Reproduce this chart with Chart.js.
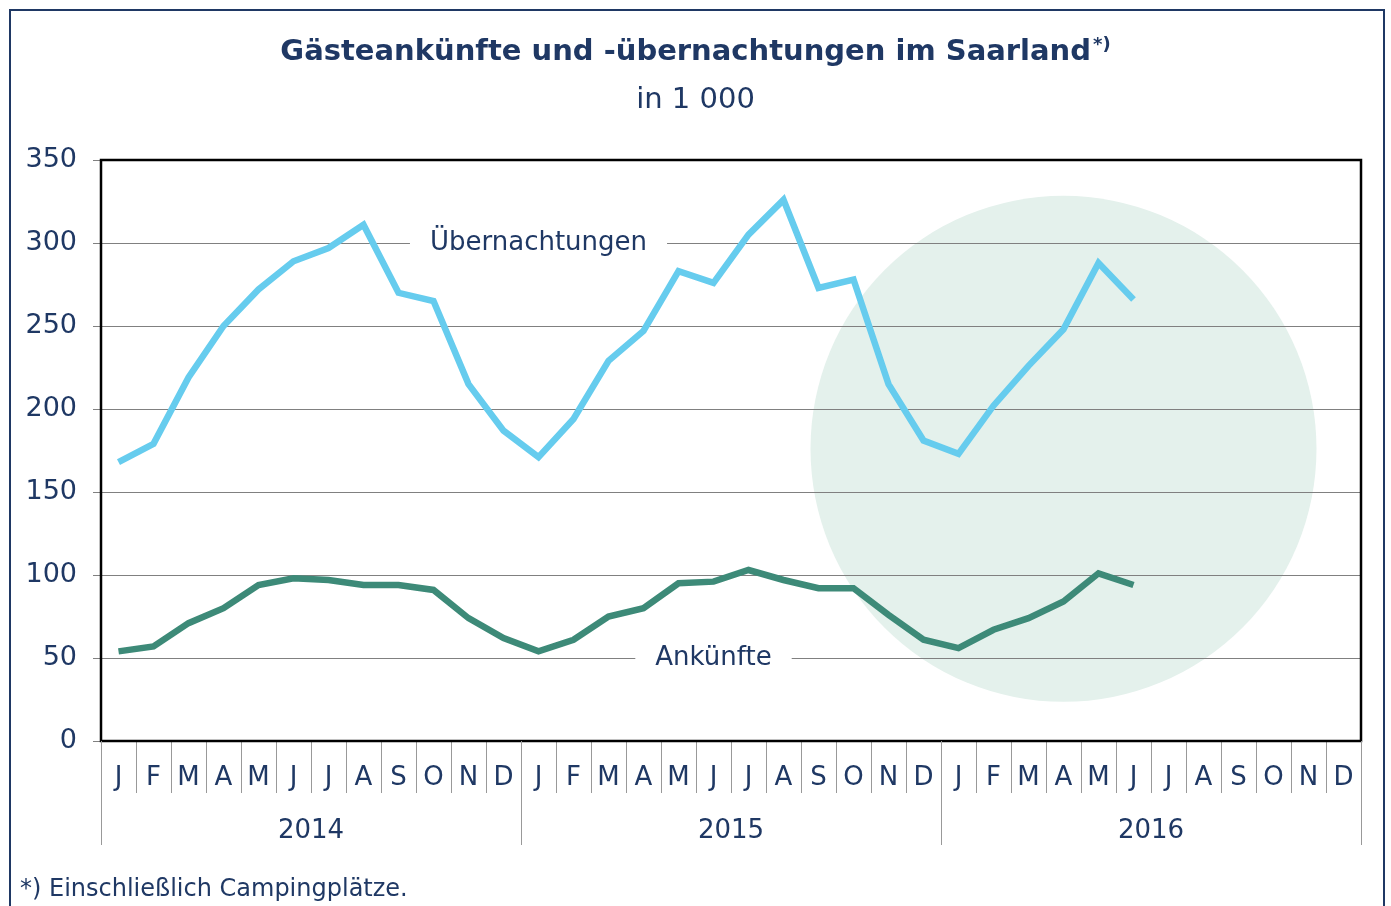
<!DOCTYPE html>
<html>
<head>
<meta charset="utf-8">
<script src="https://cdn.jsdelivr.net/npm/chart.js@4"></script>
<style>
  html, body { margin: 0; padding: 0; background: #fff; }
  #wrap { width: 1391px; height: 906px; }
</style>
</head>
<body>
<div id="wrap"><canvas id="myChart"></canvas></div>
<script>
// Daten (in 1 000)
const months = ['J','F','M','A','M','J','J','A','S','O','N','D'];
const years = ['2014', '2015', '2016'];
const monthLabels = [].concat(months, months, months);

const uebernachtungen = [168, 179, 219, 250, 272, 289, 297, 311, 270, 265, 215, 187,
                         171, 194, 229, 247, 283, 276, 305, 326, 273, 278, 215, 181,
                         173, 202, 226, 248, 288, 266];
const ankuenfte = [54, 57, 71, 80, 94, 98, 97, 94, 94, 91, 74, 62,
                   54, 61, 75, 80, 95, 96, 103, 97, 92, 92, 76, 61,
                   56, 67, 74, 84, 101, 94];
const yTicks = [0, 50, 100, 150, 200, 250, 300, 350];

const navy = '#1f3864';
const font = '"DejaVu Sans", Verdana, sans-serif';

// Hintergrund, Rahmen, Titel usw.
const deko = {
  id: 'deko',
  beforeDraw(chart) {
    const c = chart.ctx, x = chart.scales.x, y = chart.scales.y;
    c.save();
    c.fillStyle = '#fff';
    c.fillRect(0, 0, chart.width, chart.height);
    // Kreis (Hervorhebung 2016)
    c.fillStyle = '#e4f1ec';
    c.beginPath();
    c.arc(x.getPixelForValue(27), y.getPixelForValue(176), 253, 0, Math.PI * 2);
    c.fill();
    c.restore();
  },
  beforeDatasetsDraw(chart) {
    const c = chart.ctx, x = chart.scales.x, y = chart.scales.y;
    c.save();
    c.font = '26px ' + font;
    c.textAlign = 'center';
    c.textBaseline = 'middle';
    const lab = [['Übernachtungen', 12, 300], ['Ankünfte', 17, 50]];
    lab.forEach(l => {
      const px = x.getPixelForValue(l[1]), py = y.getPixelForValue(l[2]);
      const w = c.measureText(l[0]).width;
      c.fillStyle = '#fff';
      c.fillRect(px - w / 2 - 20, py - 16, w + 40, 32);
      c.fillStyle = navy;
      c.fillText(l[0], px, py);
    });
    c.restore();
  },
  afterDraw(chart) {
    const c = chart.ctx, x = chart.scales.x, a = chart.chartArea;
    c.save();
    // Rahmen Diagrammfläche
    c.strokeStyle = '#000';
    c.lineWidth = 2.5;
    c.strokeRect(a.left, a.top, a.right - a.left, a.bottom - a.top);
    // Jahre
    const step = x.getPixelForValue(1) - x.getPixelForValue(0);
    c.strokeStyle = '#999';
    c.lineWidth = 1;
    c.fillStyle = navy;
    c.font = '26px ' + font;
    c.textAlign = 'center';
    c.textBaseline = 'middle';
    for (let i = 0; i <= years.length; i++) {
      const px = Math.round(x.getPixelForValue(i * 12) - step / 2) + 0.5;
      c.beginPath();
      c.moveTo(px, a.bottom);
      c.lineTo(px, a.bottom + 104);
      c.stroke();
      if (i < years.length) {
        const cx = (x.getPixelForValue(i * 12 + 5) + x.getPixelForValue(i * 12 + 6)) / 2;
        c.fillText(years[i], cx, a.bottom + 90);
      }
    }
    // Titel
    c.textAlign = 'left';
    c.textBaseline = 'alphabetic';
    const t1 = 'Gästeankünfte und -übernachtungen im Saarland';
    c.font = 'bold 29px ' + font;
    const w1 = c.measureText(t1).width;
    c.font = 'bold 18px ' + font;
    const w2 = c.measureText('*)').width;
    const tx = chart.width / 2 - (w1 + w2 + 2) / 2;
    c.font = 'bold 29px ' + font;
    c.fillText(t1, tx, 60);
    c.font = 'bold 18px ' + font;
    c.fillText('*)', tx + w1 + 2, 50);
    c.font = '29px ' + font;
    c.textAlign = 'center';
    c.fillText('in 1 000', chart.width / 2, 108);
    // Fußnote
    c.textAlign = 'left';
    c.font = '24px ' + font;
    c.fillText('*) Einschließlich Campingplätze.', 20, 896);
    // äußerer Rahmen
    c.strokeStyle = navy;
    c.lineWidth = 2;
    c.strokeRect(10, 10, 1374, 920);
    c.restore();
  }
};

let ctx = document.getElementById('myChart');

let config = {
  type: 'line',
  data: {
    labels: monthLabels,
    datasets: [
      {
        label: 'Übernachtungen',
        data: uebernachtungen,
        borderColor: '#66ccee',
        borderWidth: 6.5,
        pointRadius: 0,
        tension: 0
      },
      {
        label: 'Ankünfte',
        data: ankuenfte,
        borderColor: '#3d8a78',
        borderWidth: 6.5,
        pointRadius: 0,
        tension: 0
      }
    ]
  },
  options: {
    responsive: true,
    maintainAspectRatio: false,
    animation: false,
    layout: { padding: { top: 160, right: 30, left: 0, bottom: 0 } },
    plugins: {
      legend: { display: false },
      tooltip: { enabled: false }
    },
    scales: {
      x: {
        offset: true,
        border: { display: false },
        grid: {
          offset: true,
          drawOnChartArea: false,
          tickLength: 52,
          color: '#999'
        },
        ticks: {
          autoSkip: false,
          maxRotation: 0,
          padding: -30,
          color: navy,
          font: { family: font, size: 26 }
        },
        afterFit(scale) { scale.height = 165; }
      },
      y: {
        min: 0,
        max: 350,
        border: { display: false },
        afterBuildTicks(scale) { scale.ticks = yTicks.map(v => ({ value: v })); },
        grid: {
          color: '#808080',
          tickLength: 8,
          lineWidth: 1
        },
        ticks: {
          padding: 16,
          color: navy,
          font: { family: font, size: 27 }
        },
        afterFit(scale) { scale.width = 101; }
      }
    }
  },
  plugins: [deko]
};

let myChart = new Chart(ctx, config);
</script>
</body>
</html>
